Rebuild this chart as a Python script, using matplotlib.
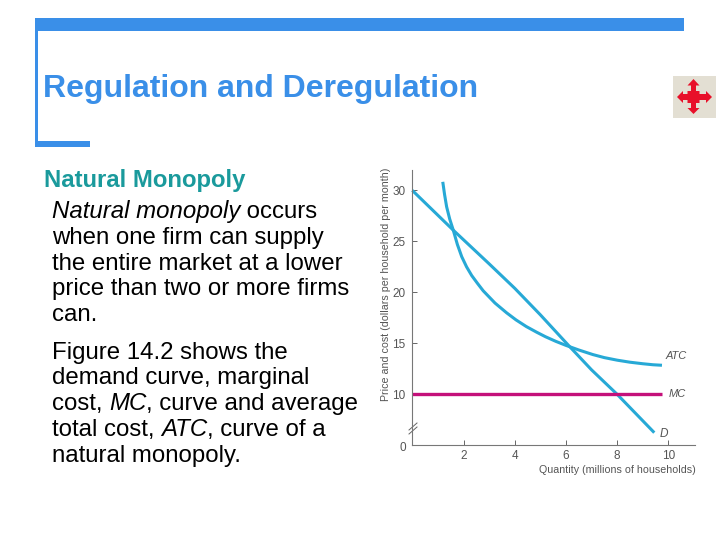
# plot.py — slide with natural monopoly chart
import matplotlib
matplotlib.use('Agg')
import matplotlib.pyplot as plt
from matplotlib.patches import Rectangle, Polygon

plt.rcParams['font.family'] = ['Liberation Sans', 'DejaVu Sans']

W, H = 720, 540
BLUE = '#3a8fe8'
TEAL = '#1a9a9c'
CURVE = '#27a9d6'
MAGENTA = '#c4107a'
GREY = '#555555'

# chart data
atc_x = [1.19, 1.26, 1.34, 1.46, 1.6, 1.76, 1.93, 2.12, 2.32, 2.54, 2.77, 3.23, 3.68, 4.05,
         4.45, 4.85, 5.2, 5.6, 6.0, 6.5, 7.05, 7.5, 8.0, 8.5, 9.0, 9.4, 9.75]
atc_y = [30.84, 29.6, 28.4, 27.2, 26.1, 24.7, 23.5, 22.5, 21.65, 20.9, 20.15, 18.95, 18.0, 17.3,
         16.65, 16.1, 15.65, 15.2, 14.8, 14.35, 13.9, 13.6, 13.35, 13.15, 13.0, 12.9, 12.85]
demand_x = [0, 1.6, 3, 4, 5, 6.1, 7, 8, 9.45]
demand_y = [30, 26.1, 22.8, 20.4, 17.8, 14.8, 12.4, 10, 6.24]
mc_x = [0, 9.75]
mc_y = [10, 10]
x_ticks = [2, 4, 6, 8, 10]
y_ticks = [10, 15, 20, 25, 30]

title = 'Regulation and Deregulation'
heading = 'Natural Monopoly'
# each line: list of (text, italic)
para_1 = [
    [('Natural monopoly', True), (' occurs', False)],
    [('when one firm can supply', False)],
    [('the entire market at a lower', False)],
    [('price than two or more firms', False)],
    [('can.', False)],
]
para_2 = [
    [('Figure 14.2 shows the', False)],
    [('demand curve, marginal', False)],
    [('cost, ', False), ('MC', True), (', curve and average', False)],
    [('total cost, ', False), ('ATC', True), (', curve of a', False)],
    [('natural monopoly.', False)],
]

fig = plt.figure(figsize=(W / 100, H / 100), dpi=100, facecolor='white')

# page layer in pixel coordinates
page = fig.add_axes([0, 0, 1, 1])
page.set_xlim(0, W)
page.set_ylim(H, 0)
page.axis('off')

# title frame
page.add_patch(Rectangle((35, 18), 649, 12.5, color=BLUE, lw=0))
page.add_patch(Rectangle((35, 18), 3, 129, color=BLUE, lw=0))
page.add_patch(Rectangle((36, 141), 54, 6, color=BLUE, lw=0))

# move icon
page.add_patch(Rectangle((673, 76), 43, 42, color='#e3dfd3', lw=0))
page.add_patch(Polygon([(693.5, 79), (699.5, 85.5), (696, 85.5), (696, 91), (699.5, 91), (699.5, 94),
                        (706, 94), (706, 91), (712, 97), (706, 103), (706, 100), (699.5, 100),
                        (699.5, 103), (696, 103), (696, 108), (699.5, 108), (693.5, 114),
                        (687.5, 108), (691, 108), (691, 103), (687.5, 103), (687.5, 100),
                        (683, 100), (683, 103), (677, 97), (683, 91), (683, 94), (687.5, 94),
                        (687.5, 91), (691, 91), (691, 85.5), (687.5, 85.5)],
                       closed=True, color='#e8102a', lw=0))


def draw_line(x, y, runs, size):
    # lay out mixed italic / regular runs one after another
    r = fig.canvas.get_renderer()
    for s, italic in runs:
        t = page.text(x, y, s, fontsize=size, color='black',
                      style='italic' if italic else 'normal', va='baseline', ha='left')
        x = page.transData.inverted().transform((t.get_window_extent(r).x1, 0))[0]


page.text(43, 97, title, fontsize=23, fontweight='bold', color=BLUE, va='baseline')
page.text(43.5, 187, heading, fontsize=17.2, fontweight='bold', color=TEAL, va='baseline')
for runs, y in zip(para_1, [218, 244, 270, 295, 321]):
    draw_line(52, y, runs, 17.3)
for runs, y in zip(para_2, [359, 384, 410, 436, 462]):
    draw_line(52, y, runs, 17.3)

# chart axes: x 412..695 px, y 170..445 px
ax = fig.add_axes([412.3 / W, 1 - 445 / H, (695 - 412.3) / W, (445 - 170) / H])
ax.patch.set_alpha(0)
ax.set_xlim(0, 11.04)
ax.set_ylim(5.03, 32)
ax.plot(atc_x, atc_y, color=CURVE, lw=2.2, solid_capstyle='butt', solid_joinstyle='round', clip_on=False)
ax.plot(demand_x, demand_y, color=CURVE, lw=2.2, solid_capstyle='butt', solid_joinstyle='round', clip_on=False)
ax.plot(mc_x, mc_y, color=MAGENTA, lw=2.4, solid_capstyle='butt')

ax.spines['top'].set_visible(False)
ax.spines['right'].set_visible(False)
for s in ['left', 'bottom']:
    ax.spines[s].set_linewidth(0.8)
    ax.spines[s].set_color('#777777')
ax.set_xticks(x_ticks)
ax.set_yticks(y_ticks)
ax.tick_params(direction='in', length=3.6, width=0.7, color='#666666', labelcolor=GREY,
               labelsize=8.5, pad=3.5)
ax.tick_params(axis='y', pad=5)
ax.set_xlabel('Quantity (millions of households)', fontsize=7.7, color=GREY, loc='right')
ax.xaxis.set_label_coords(1.003, -0.071)
ax.set_ylabel('Price and cost (dollars per household per month)', fontsize=7.7, color=GREY,
              loc='top')
ax.yaxis.set_label_coords(-0.076, 1.008)

ax.text(9.9, 13.3, 'ATC', fontsize=8, style='italic', color=GREY, va='bottom')
ax.text(10.0, 10, 'MC', fontsize=8, style='italic', color=GREY, va='center')
ax.text(9.65, 6.1, 'D', fontsize=8.5, style='italic', color=GREY, va='center')

# zero label and axis break
page.text(403, 448, '0', fontsize=8.5, color=GREY, ha='center', va='center')
page.plot([409, 417], [430, 423], color='#666666', lw=0.7)
page.plot([409, 417], [434, 427], color='#666666', lw=0.7)

fig.savefig('out.png', dpi=100)
